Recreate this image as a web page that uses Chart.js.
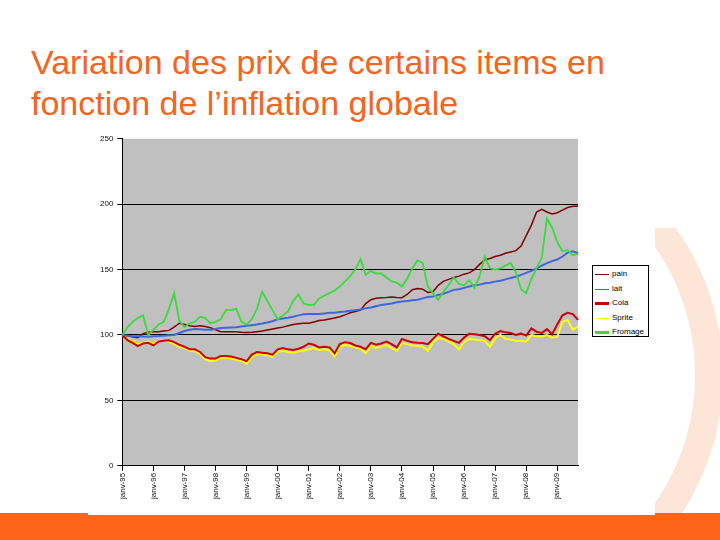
<!DOCTYPE html>
<html lang="fr">
<head>
<meta charset="utf-8">
<script src="https://cdn.jsdelivr.net/npm/chart.js@4.4.1/dist/chart.umd.min.js"></script>
<style>
  html, body { margin: 0; padding: 0; }
  body { width: 720px; height: 540px; position: relative; overflow: hidden; background: #fff; font-family: "Liberation Sans", Arial, sans-serif; }
  #titre { position: absolute; left: 31px; top: 42px; font-size: 34px; line-height: 41px; color: #F26522; white-space: nowrap; }
  #zoneArc { position: absolute; left: 0; top: 228px; width: 720px; height: 312px; overflow: hidden; }
  #arc { position: absolute; left: 217px; top: -106px; width: 450px; height: 450px; border: 28px solid #FDE6D8; border-radius: 50%; }
  #bande { position: absolute; left: 0; top: 513px; width: 720px; height: 27px; background: #FF6418; }
  #cadre { position: absolute; left: 88px; top: 130px; width: 567px; height: 385px; background: #fff; }
  #cadre canvas { position: absolute; left: 0; top: 0; }
  #legende { position: absolute; left: 592px; top: 265px; width: 55px; height: 70px; border: 1px solid #000; background: #fff; font-size: 8px; }
  .item { position: absolute; left: 0; height: 10px; width: 55px; }
  .item span.trait { position: absolute; left: 2px; width: 14px; top: 5px; }
  .item span.nom { position: absolute; left: 19px; top: 0; line-height: 10px; }
</style>
</head>
<body>
<div id="zoneArc"><div id="arc"></div></div>
<div id="bande"></div>
<div id="titre">Variation des prix de certains items en<br>fonction de l’inflation globale</div>
<div id="cadre"><canvas id="chart" width="567" height="383"></canvas></div>
<div id="legende"></div>

<script>
// séries (indice base 100 = janv-95), un point tous les deux mois
const annees = ['95','96','97','98','99','00','01','02','03','04','05','06','07','08','09'];
const moisNoms = ['janv','mars','mai','juil','sept','nov'];
const seriesNoms = ['pain', 'lait', 'Cola', 'Sprite', 'Fromage'];

const pain = [100,99.5,98.5,98,101,102,102.5,102.5,103,103.5,106,109,108,107,106.5,107,106.5,105.5,104,102.5,
  102.5,102.5,102.5,102,101.8,102,102.5,103,103.8,104.5,105.4,106,107,108,108.5,109,109,110,111,111.5,
  112.3,113,114,115.4,117,118,119,124,127,128,128.5,128.7,129,128.7,128.5,131,134.6,135.5,135,132.5,
  133,138,141,142.5,144,145,146.5,147.5,150,154,157.5,158.5,160,161,162.5,163.5,164.5,168,176,184,
  194,196,194,192.5,193.5,195.5,197.5,198.5,198.5];

const lait = [100,99.5,99,99,98.8,98.7,99,99.2,99.5,99.8,100,101.5,103,104,104.5,104.3,104,104,104.5,105.4,
  105.6,105.8,106,106.5,107,107.5,108,108.7,109.5,110.5,112,112.6,113.2,114,115,115.8,116,116,116,116.5,
  117,117,117.5,118,118.6,119,119.5,120.5,121,122,123,123.5,124,125,125.6,126,126.5,127,128,129,
  129.5,130.5,131.5,133,134.5,135,136,137,138,138.5,139.5,140,140.8,141.5,142.5,143.5,144.5,146,147.5,149,
  151,153,155,156.5,157.7,160,163,164,162.5];

const cola = [100,96,94,91.5,93.5,94,92,95,95.5,96,94.5,92.5,91,89,89,87,83,82,82,84,
  84,83.5,82.5,81.5,80,85,87,86.5,86,85,89,90,89,88.5,89.5,91,93.5,92.5,90.5,91,
  90.5,86,93,94.5,93.8,92,91,89,94,92.5,93.5,95,93,90.5,97,95.5,94.5,94,93.8,93,
  97,101,99,97,95.5,94,98,101,100.5,100,99,96,101,103,102,101.5,100,101,99.5,105,
  102.5,101.5,104.5,100.5,108,115,117,116,111.5];

const sprite = [100,97,95,93,94,95,93,95.5,95.5,95,93,91,90,88,87.5,85.5,81.5,80,80.5,82.5,
  82.5,82,81,80,78,83,85,85,84.5,83.5,87,88,87,86.5,87.5,88,89,90,88.5,89,
  88.5,83.5,91,92.5,91.5,90.5,89.5,86,91.5,90,91,92.5,90,88,94,93,92,91.5,91,88,
  94.5,97.5,97,95,93,89,94.5,97,96.5,96,95.5,91,97.5,100,97,96.5,95.5,95.5,95,100,
  99,99,100,98,98.5,110,111.5,104,106.5];

const fromage = [100,106,110,113,115,100,104,108,110,120,132,111,106,109,110,114,113,109,110,112,
  119,119,120,110,108,112,120,133,126,119,112,115,118,126,131,124,123,123,128,130,
  132,134,137,141,145,150,158,146,149,147,147,144,141,140,137,143,151,157,155,137,
  132,127,133,138,144,139,138,142,136,145,160,151,150,151,153,155,148,135,132,143,
  151,159,189,182,171,164,165,161,162];

const yTicks = [0, 50, 100, 150, 200, 250];

// catégories : un libellé tous les deux mois, de janv-95 à sept-09
const categories = [];
annees.forEach(a => moisNoms.forEach(m => categories.push(m + '-' + a)));
categories.length = pain.length;

const couleurs = ['#7F0000', '#3F66DD', '#CC0000', '#FFFF00', '#3ADB3A'];
const epaisseurs = [1.5, 2, 2, 2, 1.8];
const ordres = [2, 1, 3, 4, 0];
const epaisseursLegende = [1, 1, 3, 1, 3];
const valeurs = [pain, lait, cola, sprite, fromage];

const fondGraphique = {
  id: 'fondGraphique',
  beforeDraw(chart) {
    const a = chart.chartArea;
    const ctx = chart.ctx;
    ctx.save();
    ctx.fillStyle = '#C0C0C0';
    ctx.fillRect(a.left, a.top, a.right - a.left, a.bottom - a.top);
    ctx.restore();
  }
};

function creaGrafico() {
  const ctx = document.getElementById('chart');
  new Chart(ctx, {
    type: 'line',
    data: {
      labels: categories,
      datasets: seriesNoms.map((nom, i) => ({
        label: nom,
        data: valeurs[i],
        borderColor: couleurs[i],
        borderWidth: epaisseurs[i],
        pointRadius: 0,
        tension: 0,
        order: ordres[i]
      }))
    },
    options: {
      responsive: false,
      animation: false,
      devicePixelRatio: 1,
      layout: { padding: { left: 8, right: 77, top: 7, bottom: 12 } },
      plugins: { legend: { display: false }, tooltip: { enabled: false } },
      scales: {
        x: {
          afterBuildTicks: s => { s.ticks = s.ticks.filter(t => t.value % 6 === 0); },
          ticks: { autoSkip: false, minRotation: 90, maxRotation: 90, padding: 2,
                   color: '#111', font: { family: 'Liberation Sans', size: 8 } },
          grid: { drawOnChartArea: false, tickLength: 5, color: '#000', tickColor: '#000' },
          border: { color: '#000', width: 1 }
        },
        y: {
          min: 0, max: 250,
          afterBuildTicks: s => { s.ticks = yTicks.map(v => ({ value: v })); },
          ticks: { padding: 4, color: '#111', font: { family: 'Liberation Sans', size: 8 } },
          grid: { color: c => (c.tick && c.tick.value === 250) ? 'rgba(0,0,0,0)' : '#000',
                  tickColor: '#000', tickLength: 5, lineWidth: 1 },
          border: { color: '#000', width: 1 }
        }
      }
    },
    plugins: [fondGraphique]
  });
}

function creaLegende() {
  const box = document.getElementById('legende');
  box.innerHTML = seriesNoms.map((nom, i) => `
    <div class="item" style="top:${3 + i * 14.5}px">
      <span class="trait" style="border-top:${epaisseursLegende[i]}px solid ${couleurs[i]};margin-top:-${Math.floor(epaisseursLegende[i] / 2)}px"></span>
      <span class="nom">${nom}</span>
    </div>`).join('');
}

creaGrafico();
creaLegende();
</script>
</body>
</html>
